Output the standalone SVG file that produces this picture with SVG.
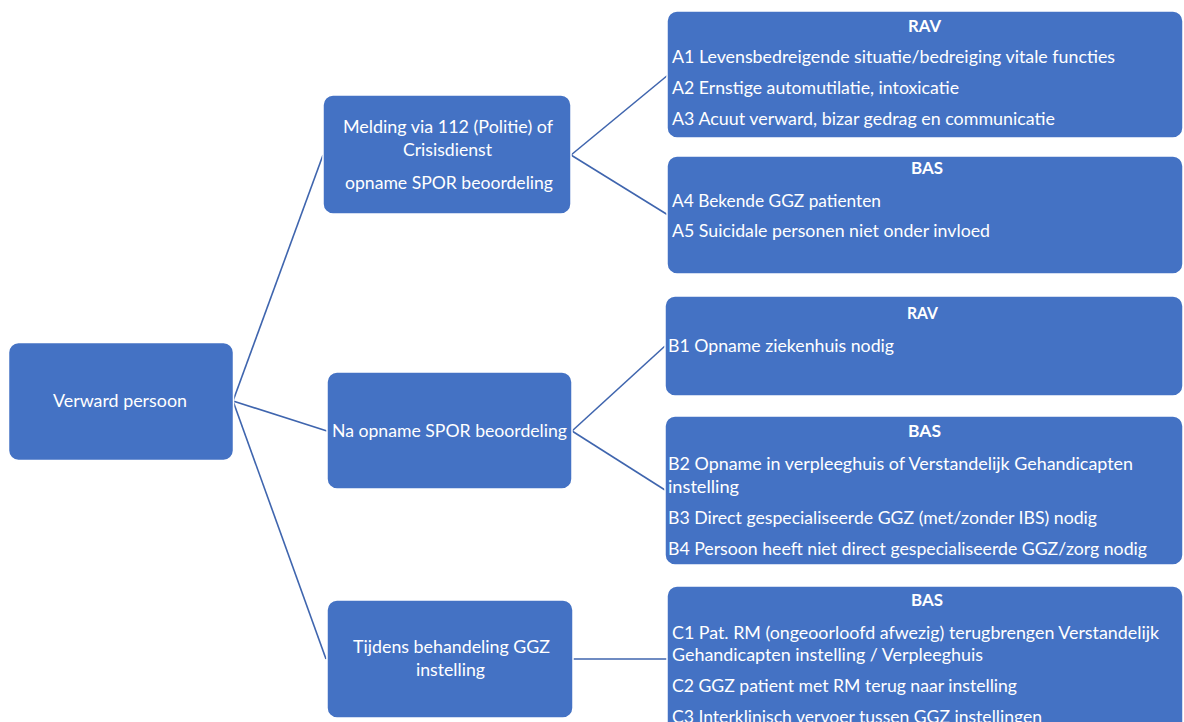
<svg xmlns="http://www.w3.org/2000/svg" width="1184" height="722" viewBox="0 0 1184 722">
<style>
.box{fill:#4472C4;stroke:#ffffff;stroke-width:1.5}
.t{font-family:Lato,"Liberation Sans",sans-serif;font-size:17px;fill:#ffffff}
.c{text-anchor:middle}
.b{font-weight:bold}
.conn line{stroke:#3F65AE;stroke-width:1.6}
</style>
<rect width="1184" height="722" fill="#ffffff"/>
<g class="conn" id="connectors">
<line x1="233" y1="401" x2="323" y2="155"/>
<line x1="233" y1="401" x2="327" y2="431"/>
<line x1="233" y1="401" x2="326" y2="659"/>
<line x1="571" y1="155" x2="668" y2="75"/>
<line x1="571" y1="155" x2="668" y2="215"/>
<line x1="572" y1="431" x2="665" y2="346"/>
<line x1="572" y1="431" x2="665" y2="490"/>
<line x1="573" y1="659" x2="667" y2="659"/>
</g>
<g id="root">
<rect class="box" x="8.5" y="342.5" width="225" height="118" rx="10"/>
<text class="t c" x="120" y="407" textLength="134" lengthAdjust="spacingAndGlyphs">Verward persoon</text>
</g>
<g id="melding">
<rect class="box" x="323" y="95" width="248" height="119" rx="10"/>
<text class="t c" x="448" y="133" textLength="210" lengthAdjust="spacingAndGlyphs">Melding via 112 (Politie) of</text>
<text class="t c" x="447.5" y="156" textLength="89" lengthAdjust="spacingAndGlyphs">Crisisdienst</text>
<text class="t c" x="449" y="189" textLength="208" lengthAdjust="spacingAndGlyphs">opname SPOR beoordeling</text>
</g>
<g id="na-opname">
<rect class="box" x="327" y="372" width="245" height="117" rx="10"/>
<text class="t c" x="449.5" y="437" textLength="235" lengthAdjust="spacingAndGlyphs">Na opname SPOR beoordeling</text>
</g>
<g id="tijdens">
<rect class="box" x="327" y="600" width="246" height="118" rx="10"/>
<text class="t c" x="451.5" y="653" textLength="197" lengthAdjust="spacingAndGlyphs">Tijdens behandeling GGZ</text>
<text class="t c" x="450.5" y="676" textLength="69" lengthAdjust="spacingAndGlyphs">instelling</text>
</g>
<g id="rav-a">
<rect class="box" x="667" y="11" width="516" height="127" rx="10"/>
<text class="t c b" x="924.5" y="32" textLength="33" lengthAdjust="spacingAndGlyphs">RAV</text>
<text class="t" x="672" y="63" textLength="443" lengthAdjust="spacingAndGlyphs">A1 Levensbedreigende situatie/bedreiging vitale functies</text>
<text class="t" x="672" y="94" textLength="287" lengthAdjust="spacingAndGlyphs">A2 Ernstige automutilatie, intoxicatie</text>
<text class="t" x="672" y="125" textLength="383" lengthAdjust="spacingAndGlyphs">A3 Acuut verward, bizar gedrag en communicatie</text>
</g>
<g id="bas-a">
<rect class="box" x="667" y="156" width="516" height="118" rx="10"/>
<text class="t c b" x="927" y="174" textLength="32" lengthAdjust="spacingAndGlyphs">BAS</text>
<text class="t" x="672" y="207" textLength="209" lengthAdjust="spacingAndGlyphs">A4 Bekende GGZ patienten</text>
<text class="t" x="672" y="237" textLength="318" lengthAdjust="spacingAndGlyphs">A5 Suicidale personen niet onder invloed</text>
</g>
<g id="rav-b">
<rect class="box" x="665" y="296" width="518" height="100" rx="10"/>
<text class="t c b" x="922.5" y="319" textLength="31" lengthAdjust="spacingAndGlyphs">RAV</text>
<text class="t" x="668" y="352" textLength="226" lengthAdjust="spacingAndGlyphs">B1 Opname ziekenhuis nodig</text>
</g>
<g id="bas-b">
<rect class="box" x="665" y="416" width="518" height="149" rx="10"/>
<text class="t c b" x="924.5" y="437" textLength="33" lengthAdjust="spacingAndGlyphs">BAS</text>
<text class="t" x="668" y="470" textLength="465" lengthAdjust="spacingAndGlyphs">B2 Opname in verpleeghuis of Verstandelijk Gehandicapten</text>
<text class="t" x="668" y="493" textLength="71" lengthAdjust="spacingAndGlyphs">instelling</text>
<text class="t" x="668" y="524" textLength="429" lengthAdjust="spacingAndGlyphs">B3 Direct gespecialiseerde GGZ (met/zonder IBS) nodig</text>
<text class="t" x="668" y="555" textLength="479" lengthAdjust="spacingAndGlyphs">B4 Persoon heeft niet direct gespecialiseerde GGZ/zorg nodig</text>
</g>
<g id="bas-c">
<rect class="box" x="667" y="586" width="516" height="160" rx="10"/>
<text class="t c b" x="927" y="606" textLength="32" lengthAdjust="spacingAndGlyphs">BAS</text>
<text class="t" x="672" y="639" textLength="487" lengthAdjust="spacingAndGlyphs">C1 Pat. RM (ongeoorloofd afwezig) terugbrengen Verstandelijk</text>
<text class="t" x="672" y="661" textLength="311" lengthAdjust="spacingAndGlyphs">Gehandicapten instelling / Verpleeghuis</text>
<text class="t" x="672" y="692" textLength="345" lengthAdjust="spacingAndGlyphs">C2 GGZ patient met RM terug naar instelling</text>
<text class="t" x="672" y="723" textLength="370" lengthAdjust="spacingAndGlyphs">C3 Interklinisch vervoer tussen GGZ instellingen</text>
</g>
</svg>
